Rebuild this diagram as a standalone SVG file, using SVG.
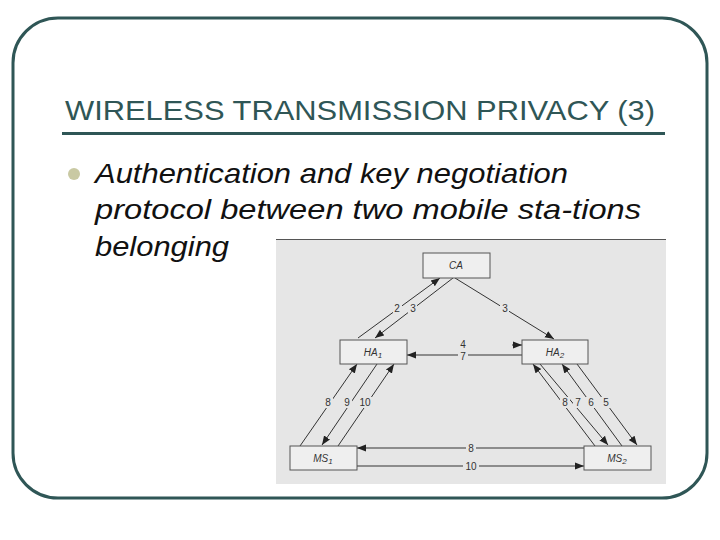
<svg xmlns="http://www.w3.org/2000/svg" width="720" height="540" viewBox="0 0 720 540">
<style>
.t{font-family:"Liberation Sans",Arial,sans-serif}
.bx{fill:#efefef;stroke:#555;stroke-width:1}
.ln{stroke:#333;stroke-width:1;fill:none}
.lb{font-family:"Liberation Sans",Arial,sans-serif;font-size:10px;fill:#333;text-anchor:middle}
.nm{font-family:"Liberation Sans",Arial,sans-serif;font-size:10px;font-style:italic;fill:#333;text-anchor:middle}
</style>
<defs><marker id="a" viewBox="0 0 10 10" refX="10" refY="5" markerWidth="9" markerHeight="9" orient="auto"><path d="M0,1L10,5L0,9z" fill="#222"/></marker></defs>
<rect x="13" y="18" width="694" height="480" rx="45" fill="#fff" stroke="#2f5656" stroke-width="3"/>
<text class="t" x="65" y="120" font-size="28" fill="#2f5656" textLength="590" lengthAdjust="spacingAndGlyphs">WIRELESS TRANSMISSION PRIVACY (3)</text>
<rect x="62" y="132" width="603" height="3" fill="#2f5656"/>
<circle cx="74" cy="174" r="6" fill="#c9c9a3"/>
<g class="t" font-size="28" font-style="italic" fill="#111">
<text x="95" y="183" textLength="473" lengthAdjust="spacingAndGlyphs">Authentication and key negotiation</text>
<text x="95" y="219" textLength="546" lengthAdjust="spacingAndGlyphs">protocol between two mobile sta-tions</text>
<text x="95" y="256" textLength="134" lengthAdjust="spacingAndGlyphs">belonging</text>
</g>
<rect x="276" y="239" width="390" height="245" fill="#e6e6e6"/>
<line x1="276" y1="239.5" x2="666" y2="239.5" stroke="#555"/>
<g id="connectors">
<line class="ln" x1="358" y1="338" x2="440" y2="278" marker-end="url(#a)"/>
<line class="ln" x1="453" y1="278" x2="375" y2="338" marker-end="url(#a)"/>
<line class="ln" x1="455" y1="278" x2="554" y2="339" marker-end="url(#a)"/>
<line class="ln" x1="522" y1="355" x2="407" y2="355" marker-end="url(#a)"/>
<line class="ln" x1="512" y1="345" x2="522" y2="345" marker-end="url(#a)"/>
<line class="ln" x1="300" y1="446" x2="357" y2="364" marker-end="url(#a)"/>
<line class="ln" x1="377" y1="364" x2="322" y2="445" marker-end="url(#a)"/>
<line class="ln" x1="338" y1="446" x2="394" y2="364" marker-end="url(#a)"/>
<line class="ln" x1="595" y1="446" x2="533" y2="364" marker-end="url(#a)"/>
<line class="ln" x1="540" y1="364" x2="608" y2="445" marker-end="url(#a)"/>
<line class="ln" x1="622" y1="446" x2="562" y2="364" marker-end="url(#a)"/>
<line class="ln" x1="577" y1="364" x2="637" y2="445" marker-end="url(#a)"/>
<line class="ln" x1="584" y1="448" x2="357" y2="448" marker-end="url(#a)"/>
<line class="ln" x1="357" y1="466" x2="584" y2="466" marker-end="url(#a)"/>
<g fill="#e6e6e6">
<rect x="393" y="303" width="9" height="10"/><rect x="408" y="303" width="9" height="10"/><rect x="500" y="303" width="9" height="10"/>
<rect x="458" y="339" width="10" height="10"/><rect x="458" y="351" width="10" height="10"/>
<rect x="323" y="397" width="10" height="11"/><rect x="342" y="397" width="10" height="11"/><rect x="358" y="397" width="14" height="11"/>
<rect x="560" y="397" width="10" height="11"/><rect x="573" y="397" width="10" height="11"/><rect x="586" y="397" width="10" height="11"/><rect x="601" y="397" width="10" height="11"/>
<rect x="466" y="442" width="10" height="11"/><rect x="463" y="460" width="16" height="11"/>
</g>
<text class="lb" x="397" y="312">2</text><text class="lb" x="413" y="312">3</text><text class="lb" x="505" y="312">3</text>
<text class="lb" x="463" y="348">4</text><text class="lb" x="463" y="360">7</text>
<text class="lb" x="328" y="406">8</text><text class="lb" x="347" y="406">9</text><text class="lb" x="365" y="406">10</text>
<text class="lb" x="565" y="406">8</text><text class="lb" x="578" y="406">7</text><text class="lb" x="591" y="406">6</text><text class="lb" x="606" y="406">5</text>
<text class="lb" x="471" y="452">8</text><text class="lb" x="471" y="470">10</text>
</g>
<g id="CA"><rect class="bx" x="423" y="253" width="67" height="25"/><text class="nm" x="456" y="269">CA</text></g>
<g id="HA1"><rect class="bx" x="340" y="340" width="67" height="24"/><text class="nm" x="373" y="356">HA<tspan font-size="8" dy="2">1</tspan></text></g>
<g id="HA2"><rect class="bx" x="522" y="340" width="66" height="24"/><text class="nm" x="555" y="356">HA<tspan font-size="8" dy="2">2</tspan></text></g>
<g id="MS1"><rect class="bx" x="290" y="446" width="67" height="24"/><text class="nm" x="323" y="462">MS<tspan font-size="8" dy="2">1</tspan></text></g>
<g id="MS2"><rect class="bx" x="584" y="446" width="67" height="24"/><text class="nm" x="617" y="462">MS<tspan font-size="8" dy="2">2</tspan></text></g>
</svg>
